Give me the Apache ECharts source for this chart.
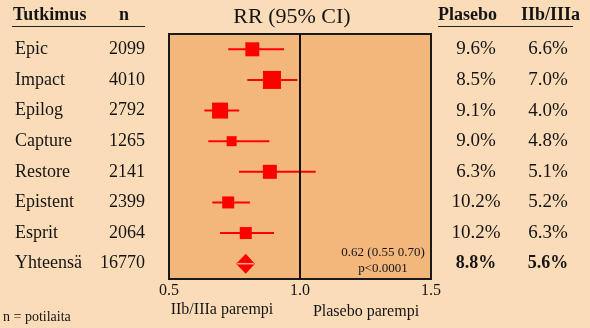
<!DOCTYPE html>
<html>
<head>
<meta charset="utf-8">
<script src="https://cdn.jsdelivr.net/npm/echarts@6/dist/echarts.min.js"></script>
<style>
  html, body { margin: 0; padding: 0; background: #FBDCB9; }
  #chart { width: 590px; height: 328px; }
</style>
</head>
<body>
<div id="chart"></div>
<script>
// Trials in the meta-analysis (last row is the pooled result)
const studies = ['Epic', 'Impact', 'Epilog', 'Capture', 'Restore', 'Epistent', 'Esprit', 'Yhteensä'];
const patients = [2099, 4010, 2792, 1265, 2141, 2399, 2064, 16770];
// Relative risk with 95% confidence interval
const rr     = [0.818, 0.893, 0.695, 0.739, 0.885, 0.726, 0.793, 0.793];
const ciLow  = [0.726, 0.799, 0.635, 0.650, 0.767, 0.665, 0.695, 0.756];
const ciHigh = [0.939, 0.990, 0.768, 0.883, 1.060, 0.809, 0.901, 0.828];
// Event rates per arm
const placeboRate   = ['9.6%', '8.5%', '9.1%', '9.0%', '6.3%', '10.2%', '10.2%', '8.8%'];
const inhibitorRate = ['6.6%', '7.0%', '4.0%', '4.8%', '5.1%', '5.2%', '6.3%', '5.6%'];
// RR axis ticks
const rrTicks = [0.5, 1.0, 1.5];

// Box side length (px) per trial, reflecting its weight
const boxPx = [14, 18, 16, 10, 14, 12, 12];

const SERIF = '"Liberation Serif", "Times New Roman", serif';
const INK = '#141414';
const RED = '#FF0000';
const last = studies.length - 1;

const chart = echarts.init(document.getElementById('chart'), null, { renderer: 'canvas' });

const seriesData = studies.map((s, i) => [rr[i], s, ciLow[i], ciHigh[i]]);

const option = {
  backgroundColor: '#FBDCB9',
  animation: false,
  grid: {
    left: 169, right: 159, top: 34, bottom: 49,
    show: true,
    backgroundColor: '#F3B77C',
    borderColor: '#1a1a1a',
    borderWidth: 2
  },
  xAxis: {
    type: 'value',
    min: rrTicks[0],
    max: rrTicks[rrTicks.length - 1],
    interval: rrTicks[1] - rrTicks[0],
    axisLine: { show: false },
    axisTick: { show: false },
    splitLine: { show: false },
    axisLabel: {
      formatter: v => v.toFixed(1),
      fontFamily: SERIF, fontSize: 16, color: INK, margin: 4
    }
  },
  yAxis: [
    {
      type: 'category',
      inverse: true,
      data: studies,
      axisLine: { show: false },
      axisTick: { show: false },
      splitLine: { show: false },
      axisLabel: {
        margin: 24,
        formatter: (v, i) => `{name|${v}}{n|${patients[i]}}`,
        rich: {
          name: { width: 85, align: 'left', fontFamily: SERIF, fontSize: 18, color: INK },
          n: { width: 45, align: 'right', fontFamily: SERIF, fontSize: 18, color: INK }
        }
      }
    },
    {
      type: 'category',
      inverse: true,
      position: 'right',
      data: studies,
      axisLine: { show: false },
      axisTick: { show: false },
      splitLine: { show: false },
      axisLabel: {
        margin: 15,
        formatter: (v, i) => i === last
          ? `{pb|${placeboRate[i]}}{gb|${inhibitorRate[i]}}`
          : `{p|${placeboRate[i]}}{g|${inhibitorRate[i]}}`,
        rich: {
          p:  { width: 60, align: 'center', fontFamily: SERIF, fontSize: 19, color: INK },
          g:  { width: 84, align: 'center', fontFamily: SERIF, fontSize: 19, color: INK },
          pb: { width: 60, align: 'center', fontFamily: SERIF, fontSize: 18, fontWeight: 'bold', color: INK },
          gb: { width: 84, align: 'center', fontFamily: SERIF, fontSize: 18, fontWeight: 'bold', color: INK }
        }
      }
    }
  ],
  series: [
    {
      type: 'custom',
      xAxisIndex: 0,
      yAxisIndex: 0,
      dimensions: ['rr', 'study', 'lo', 'hi'],
      encode: { x: [0, 2, 3], y: 1 },
      data: seriesData,
      renderItem: (params, api) => {
        const i = params.dataIndex;
        const row = api.value(1);
        const c  = api.coord([api.value(0), row]);
        const lo = api.coord([api.value(2), row]);
        const hi = api.coord([api.value(3), row]);
        if (i === last) {
          // pooled estimate: diamond spanning the CI
          const h = 10;
          return {
            type: 'group',
            children: [
              {
                type: 'polygon',
                shape: { points: [[lo[0], c[1]], [c[0], c[1] - h], [hi[0], c[1]], [c[0], c[1] + h]] },
                style: { fill: RED }
              },
              {
                type: 'line',
                shape: { x1: lo[0] + 1, y1: c[1], x2: hi[0] - 1, y2: c[1] },
                style: { stroke: '#F6A48C', lineWidth: 1.5 }
              }
            ]
          };
        }
        const s = boxPx[i];
        return {
          type: 'group',
          children: [
            {
              type: 'line',
              shape: { x1: lo[0], y1: c[1], x2: hi[0], y2: c[1] },
              style: { stroke: RED, lineWidth: 2 }
            },
            {
              type: 'rect',
              shape: { x: c[0] - s / 2, y: c[1] - s / 2, width: s, height: s },
              style: { fill: RED }
            }
          ]
        };
      },
      markLine: {
        silent: true,
        symbol: 'none',
        label: { show: false },
        lineStyle: { color: '#111', width: 2, type: 'solid' },
        data: [{ xAxis: 1.0 }]
      },
      z: 3
    }
  ],
  graphic: [
    // column headers
    { type: 'text', left: 13, top: 6, style: { text: 'Tutkimus', font: `bold 18px ${SERIF}`, fill: INK } },
    { type: 'text', left: 119, top: 6, style: { text: 'n', font: `bold 18px ${SERIF}`, fill: INK } },
    { type: 'line', shape: { x1: 12, y1: 26.5, x2: 145, y2: 26.5 }, style: { stroke: '#222', lineWidth: 1.2 } },
    { type: 'text', x: 292, y: 17, style: { text: 'RR (95% CI)', font: `22px ${SERIF}`, fill: INK, textAlign: 'center', textVerticalAlign: 'middle' } },
    { type: 'text', left: 438, top: 6, style: { text: 'Plasebo', font: `bold 18px ${SERIF}`, fill: INK } },
    { type: 'text', left: 521, top: 6, style: { text: 'IIb/IIIa', font: `bold 18px ${SERIF}`, fill: INK } },
    { type: 'line', shape: { x1: 438, y1: 26.5, x2: 573, y2: 26.5 }, style: { stroke: '#222', lineWidth: 1.2 } },
    // pooled result note inside the plot
    { type: 'text', x: 383, y: 253, style: { text: '0.62 (0.55 0.70)', font: `13px ${SERIF}`, fill: INK, textAlign: 'center', textVerticalAlign: 'middle' } },
    { type: 'text', x: 383, y: 268.5, style: { text: 'p<0.0001', font: `13px ${SERIF}`, fill: INK, textAlign: 'center', textVerticalAlign: 'middle' } },
    // direction captions under the axis
    { type: 'text', x: 222, y: 310, style: { text: 'IIb/IIIa parempi', font: `16px ${SERIF}`, fill: INK, textAlign: 'center', textVerticalAlign: 'middle' } },
    { type: 'text', x: 366, y: 312, style: { text: 'Plasebo parempi', font: `16px ${SERIF}`, fill: INK, textAlign: 'center', textVerticalAlign: 'middle' } },
    { type: 'text', left: 3, y: 317, style: { text: 'n = potilaita', font: `14px ${SERIF}`, fill: INK, textVerticalAlign: 'middle' } }
  ]
};

chart.setOption(option);
</script>
</body>
</html>
